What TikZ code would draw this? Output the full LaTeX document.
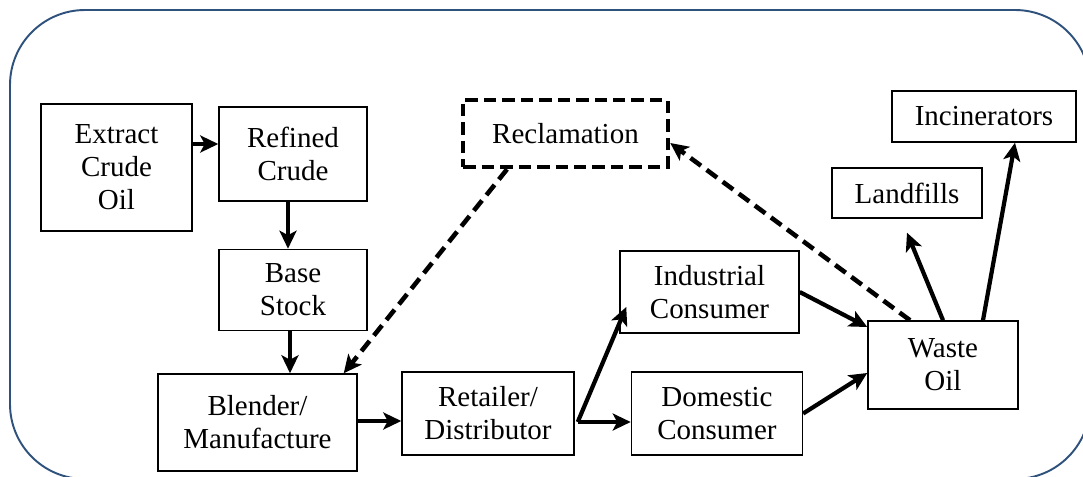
\documentclass[tikz,border=0pt]{standalone}
\usepackage{fontspec}
\setmainfont{Liberation Serif}
\usetikzlibrary{arrows.meta, positioning}
\definecolor{framecol}{RGB}{47,82,125}
\tikzset{
	box/.style={
		rectangle,
		draw=black,
		line width=0.85pt,
		align=center,
		inner sep=0pt,
		font=\fontsize{16.5}{18.8}\selectfont
	},
	dashbox/.style={
		box,
		line width=2.6pt,
		dash pattern=on 0.25cm off 0.12cm
	},
	arrow/.style={
		line width=2.4pt,
		-{Stealth[length=0.36cm, width=0.34cm, inset=0.09cm]}
	},
	dasharrow/.style={
		arrow,
		line width=2.6pt,
		dash pattern=on 0.26cm off 0.14cm
	},
	frame/.style={
		draw=framecol,
		line width=1.1pt,
		rounded corners=1.5cm
	}
}

\begin{document}
\begin{tikzpicture}[x=0.02cm, y=-0.02cm]
	\useasboundingbox (0,0) rectangle (1083,477);
	\draw [frame] (10,10) rectangle (1090,479);

	\node (extract) [box, minimum width=3.02cm, minimum height=2.54cm] at (116.5,167.5) {Extract\\Crude\\Oil};
	\node (refined) [box, minimum width=2.96cm, minimum height=1.88cm] at (293,154) {Refined\\Crude};
	\node (base) [box, minimum width=2.96cm, minimum height=1.62cm, below=0.94cm of refined] {Base\\Stock};
	\node (blender) [box, minimum width=3.98cm, minimum height=1.94cm] at (257.5,422.5) {Blender/\\Manufacture};
	\node (reclaim) [dashbox, minimum width=4.1cm, minimum height=1.34cm] at (565.5,133.5) {Reclamation};
	\node (retailer) [box, minimum width=3.44cm, minimum height=1.66cm] at (488,413.5) {Retailer/\\Distributor};
	\node (domestic) [box, minimum width=3.42cm, minimum height=1.66cm, right=1.12cm of retailer] {Domestic\\Consumer};
	\node (industrial) [box, minimum width=3.58cm, minimum height=1.64cm] at (709.5,292) {Industrial\\Consumer};
	\node (waste) [box, minimum width=3.0cm, minimum height=1.76cm] at (943,365) {Waste\\Oil};
	\node (landfill) [box, minimum width=3.0cm, minimum height=1.0cm] at (907,193) {Landfills};
	\node (incin) [box, minimum width=3.68cm, minimum height=1.02cm] at (984,116.5) {Incinerators};

	% main flow
	\draw [arrow] ([yshift=0.2cm]refined.west -| extract.east) -- ([yshift=0.2cm]refined.west);
	\draw [arrow] ([xshift=-0.1cm]refined.south) -- ([xshift=-0.1cm]base.north);
	\draw [arrow] ([xshift=-0.06cm]base.south) -- ([xshift=-0.06cm]base.south |- blender.north);
	\draw [arrow] ([yshift=-0.15cm]retailer.west -| blender.east) -- ([yshift=-0.15cm]retailer.west);
	\draw [arrow] ([xshift=0.06cm,yshift=-0.17cm]retailer.east) -- ([yshift=-0.17cm]domestic.west);
	\draw [arrow] ([xshift=0.06cm,yshift=-0.17cm]retailer.east) -- ([xshift=0.14cm,yshift=-0.3cm]industrial.west);
	\draw [arrow] (industrial.east) -- ([yshift=0.76cm]waste.west);
	\draw [arrow] (domestic.east) -- ([yshift=-0.16cm]waste.west);
	\draw [arrow] (waste.north) -- ([yshift=-0.28cm]landfill.south);
	\draw [arrow] ([xshift=0.8cm]waste.north) -- ([xshift=0.62cm]incin.south);

	% recovery loop
	\draw [dasharrow] ([xshift=-0.66cm]waste.north) -- ([yshift=-0.19cm]reclaim.east);
	\draw [dasharrow] ([xshift=-1.17cm]reclaim.south) -- ([xshift=-0.28cm]blender.north east);
\end{tikzpicture}
\end{document}
